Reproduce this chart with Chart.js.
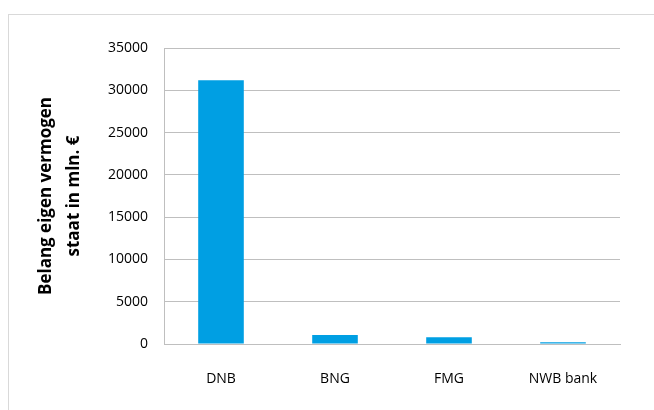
<!DOCTYPE html>
<html><head><meta charset="utf-8">
<script src="https://cdn.jsdelivr.net/npm/chart.js@4"></script>
<style>
html,body{margin:0;padding:0;background:#fff;}
#wrap{position:relative;width:654px;height:410px;}
#frame{position:absolute;left:8px;top:14px;width:660px;height:420px;border:1px solid #d9d9d9;box-sizing:border-box;}
canvas{position:absolute;left:0;top:0;}
</style></head>
<body>
<div id="wrap"><div id="frame"></div><canvas id="c" width="654" height="410"></canvas></div>
<script>
const categories = ["DNB", "BNG", "FMG", "NWB bank"];
const values = [31200, 1050, 800, 200];
const yTicks = [0, 5000, 10000, 15000, 20000, 25000, 30000, 35000];
const yTitle = ["Belang eigen vermogen", "staat in mln. €"];

new Chart(document.getElementById('c'), {
  type: 'bar',
  data: { labels: categories, datasets: [{ data: values, backgroundColor: '#009FE3', barPercentage: 0.4, categoryPercentage: 1.0 }] },
  options: {
    responsive: false, animation: false, devicePixelRatio: 1,
    layout: { padding: { left: 0, right: 34, top: 48, bottom: 0 } },
    plugins: { legend: { display: false }, tooltip: { enabled: false } },
    scales: {
      x: {
        grid: { display: false, drawTicks: false },
        border: { display: true, color: '#bfbfbf' },
        ticks: { color: '#000', padding: 27, font: { family: 'Open Sans', size: 14 } },
        afterFit: s => { s.height = 66; }
      },
      y: {
        min: 0, max: 35000,
        afterBuildTicks: s => { s.ticks = yTicks.map(v => ({ value: v })); },
        grid: { color: '#bfbfbf', drawTicks: false },
        border: { display: true, color: '#bfbfbf' },
        ticks: { color: '#000', padding: 16, font: { family: 'Open Sans', size: 14 }, callback: v => String(v) },
        title: { display: true, text: yTitle, color: '#000', font: { family: 'Open Sans', size: 17, weight: 'bold', lineHeight: 1.6 }, padding: { top: 33, bottom: 0 } },
        afterFit: s => { s.width = 164; }
      }
    }
  }
});
</script>
</body></html>
